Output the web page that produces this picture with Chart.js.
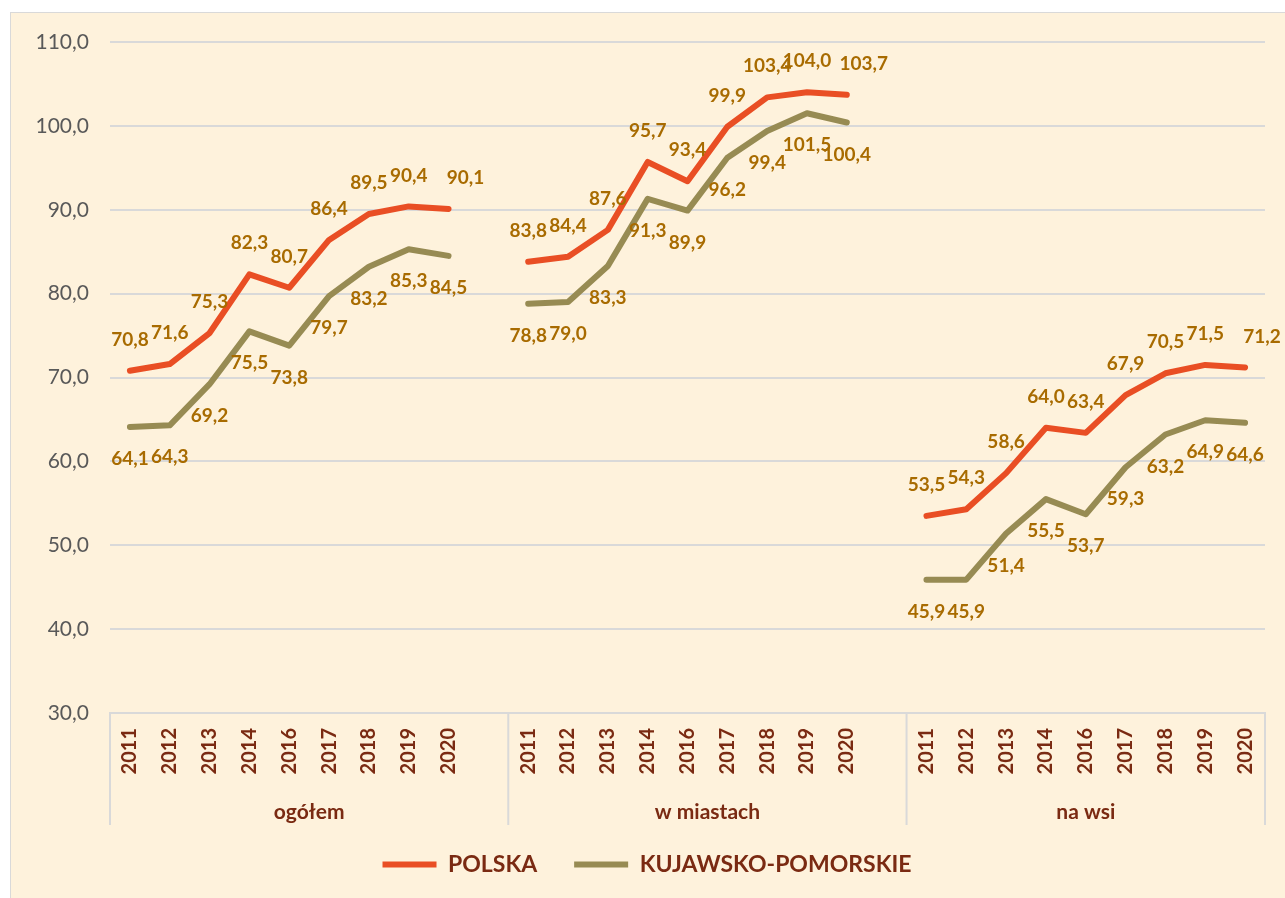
<!DOCTYPE html>
<html lang="pl">
<head>
<meta charset="UTF-8">
<title>Wskaźnik - Polska i kujawsko-pomorskie</title>
<script src="https://cdn.jsdelivr.net/npm/chart.js"></script>
<style>
  html, body { margin: 0; padding: 0; background: #ffffff; overflow: hidden; }
  .ramka {
    position: absolute; left: 10px; top: 12px;
    width: 1290px; height: 900px;
    background: #FEF2DC;
    border: 1px solid #D9D9D9;
  }
  .ramka canvas { position: absolute; left: 0; top: 0; }
</style>
</head>
<body>
<div class="ramka">
  <canvas id="wykres" width="1274" height="885"></canvas>
</div>

<script>
// dane
var lata = ['2011', '2012', '2013', '2014', '2016', '2017', '2018', '2019', '2020'];
var grupy = ['ogółem', 'w miastach', 'na wsi'];

var polskaOgolem = [70.8, 71.6, 75.3, 82.3, 80.7, 86.4, 89.5, 90.4, 90.1];
var polskaMiasta = [83.8, 84.4, 87.6, 95.7, 93.4, 99.9, 103.4, 104.0, 103.7];
var polskaWies   = [53.5, 54.3, 58.6, 64.0, 63.4, 67.9, 70.5, 71.5, 71.2];

var kpOgolem = [64.1, 64.3, 69.2, 75.5, 73.8, 79.7, 83.2, 85.3, 84.5];
var kpMiasta = [78.8, 79.0, 83.3, 91.3, 89.9, 96.2, 99.4, 101.5, 100.4];
var kpWies   = [45.9, 45.9, 51.4, 55.5, 53.7, 59.3, 63.2, 64.9, 64.6];

var osY = { min: 30, max: 110, krok: 10 };

// sklejenie grup z pustym miejscem pomiedzy nimi
function sklej(czesci, pusty) {
    var wynik = [];
    czesci.forEach(function (c, i) {
        wynik = wynik.concat(c);
        if (i < czesci.length - 1) wynik.push(pusty);
    });
    return wynik;
}

var etykiety = sklej([lata, lata, lata], '');
var danePolska = sklej([polskaOgolem, polskaMiasta, polskaWies], null);
var daneKP = sklej([kpOgolem, kpMiasta, kpWies], null);

var czcionka = 'Lato, "Open Sans", sans-serif';
var kolorBraz = '#7A2A12';
var kolorSiatki = '#D9D9D9';

function przecinek(v) {
    return Number(v).toFixed(1).replace('.', ',');
}

// etykiety wartosci nad / pod liniami
var etykietyWartosci = {
    id: 'etykietyWartosci',
    afterDatasetsDraw: function (chart) {
        var ctx = chart.ctx;
        var przesuniecia = [-31, 32];
        ctx.save();
        ctx.font = 'bold 19px ' + czcionka;
        ctx.fillStyle = '#A86B00';
        ctx.textAlign = 'center';
        ctx.textBaseline = 'middle';
        chart.data.datasets.forEach(function (ds, i) {
            var meta = chart.getDatasetMeta(i);
            meta.data.forEach(function (pkt, j) {
                var v = ds.data[j];
                if (v === null) return;
                // ostatni punkt grupy (POLSKA) odsuniety w prawo, zeby sie nie zlewal
                var ostatni = (j === ds.data.length - 1 || ds.data[j + 1] === null);
                var dx = (i === 0 && ostatni) ? 17 : 0;
                ctx.fillText(przecinek(v), pkt.x + dx, pkt.y + przesuniecia[i]);
            });
        });
        ctx.restore();
    }
};

// podzialki grup i nazwy grup pod osia X
var grupyOsi = {
    id: 'grupyOsi',
    afterLayout: function (chart) {
        // legenda troche w prawo, jak w oryginale
        chart.legend.left += 9;
        chart.legend.right += 9;
    },
    afterDraw: function (chart) {
        var ctx = chart.ctx;
        var x = chart.scales.x;
        var dol = chart.chartArea.bottom;
        var n = etykiety.length;
        var granice = [chart.chartArea.left];
        var start = 0;
        var srodki = [];
        for (var g = 0; g < grupy.length; g++) {
            var koniec = start + lata.length + (g < grupy.length - 1 ? 1 : 0);
            var xk = koniec >= n ? chart.chartArea.right
                : (x.getPixelForValue(koniec - 1) + x.getPixelForValue(koniec)) / 2;
            srodki.push((granice[granice.length - 1] + xk) / 2);
            granice.push(xk);
            start = koniec;
        }
        ctx.save();
        ctx.strokeStyle = kolorSiatki;
        ctx.lineWidth = 2;
        granice.forEach(function (gx) {
            ctx.beginPath();
            ctx.moveTo(gx, dol);
            ctx.lineTo(gx, dol + 112);
            ctx.stroke();
        });
        ctx.font = 'bold 21px ' + czcionka;
        ctx.fillStyle = kolorBraz;
        ctx.textAlign = 'center';
        ctx.textBaseline = 'middle';
        srodki.forEach(function (sx, i) {
            ctx.fillText(grupy[i], sx, dol + 99);
        });
        ctx.restore();
    }
};

var ctx = document.getElementById('wykres').getContext('2d');
var wykres = new Chart(ctx, {
    type: 'line',
    data: {
        labels: etykiety,
        datasets: [{
            label: 'POLSKA',
            data: danePolska,
            borderColor: '#E94E24',
            backgroundColor: '#E94E24',
            borderWidth: 6,
            borderCapStyle: 'round',
            borderJoinStyle: 'round',
            pointRadius: 0,
            tension: 0,
            spanGaps: false
        }, {
            label: 'KUJAWSKO-POMORSKIE',
            data: daneKP,
            borderColor: '#978B53',
            backgroundColor: '#978B53',
            borderWidth: 6,
            borderCapStyle: 'round',
            borderJoinStyle: 'round',
            pointRadius: 0,
            tension: 0,
            spanGaps: false
        }]
    },
    options: {
        responsive: false,
        animation: false,
        layout: { padding: { top: 29, bottom: 12, left: 0, right: 20 } },
        plugins: {
            tooltip: { enabled: false },
            legend: {
                display: true,
                position: 'bottom',
                labels: {
                    usePointStyle: true,
                    pointStyle: 'line',
                    pointStyleWidth: 54,
                    padding: 37,
                    color: kolorBraz,
                    font: { family: czcionka, size: 23, weight: 'bold' }
                }
            }
        },
        scales: {
            x: {
                offset: true,
                grid: { display: false, drawTicks: false },
                border: { display: true, color: kolorSiatki, width: 2 },
                ticks: {
                    autoSkip: false,
                    minRotation: 90,
                    maxRotation: 90,
                    padding: 15,
                    color: kolorBraz,
                    font: { family: czcionka, size: 20, weight: 'bold' }
                },
                afterFit: function (s) { s.height = 103; }
            },
            y: {
                min: osY.min,
                max: osY.max,
                grid: { color: kolorSiatki, lineWidth: 2, drawTicks: false },
                border: { display: false },
                ticks: {
                    stepSize: osY.krok,
                    padding: 21,
                    color: '#595959',
                    font: { family: czcionka, size: 21 },
                    callback: function (v) { return przecinek(v); }
                },
                afterFit: function (s) {
                    s.width = 99;
                    s.paddingTop = 0;
                    s.paddingBottom = 0;
                }
            }
        }
    },
    plugins: [etykietyWartosci, grupyOsi]
});
</script>
</body>
</html>
